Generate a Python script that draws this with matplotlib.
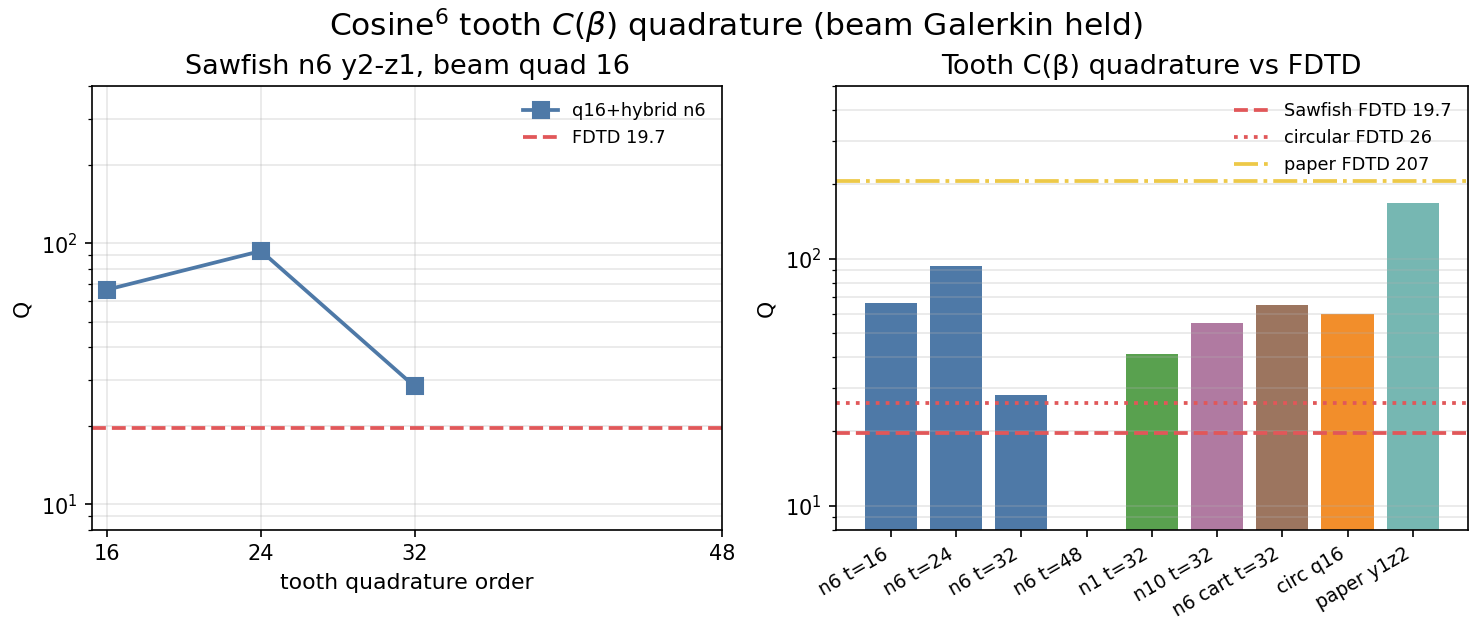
import numpy as np
import matplotlib
matplotlib.use("Agg")
import matplotlib.pyplot as plt

# left panel: Q vs tooth quadrature order (n6, beam quad 16)
orders = [16, 24, 32, 48]
q_hybrid = [66.5, 93.5, 28.3, np.nan]

# right panel: bar comparison
bar_labels = ["n6 t=16", "n6 t=24", "n6 t=32", "n6 t=48", "n1 t=32",
              "n10 t=32", "n6 cart t=32", "circ q16", "paper y1z2"]
bar_q = [66.4, 93.7, 28.1, np.nan, 41.2, 55.1, 64.9, 59.9, 168.6]
bar_colors = ["#4e79a7", "#4e79a7", "#4e79a7", "#4e79a7", "#59a14f",
              "#b07aa1", "#9c755f", "#f28e2b", "#76b7b2"]

fdtd_sawfish = 19.7
fdtd_circ = 26
fdtd_paper = 207

red = "#e15759"
yellow = "#edc948"

fig, (ax1, ax2) = plt.subplots(1, 2, figsize=(1472 / 150, 624 / 150), dpi=150)
ax1.set_position([0.0625, 0.151, 0.428, 0.711])
ax2.set_position([0.568, 0.151, 0.429, 0.711])

ax1.plot(orders, q_hybrid, "-s", color="#4e79a7", lw=1.8, ms=8, label="q16+hybrid n6")
ax1.axhline(fdtd_sawfish, color=red, ls="--", lw=1.8, label="FDTD 19.7")
ax1.set_yscale("log")
ax1.set_xticks(orders)
ax1.set_xlim(15.2, 48)
ax1.set_ylim(8, 400)
ax1.grid(True, which="both", alpha=0.3)
ax1.set_xlabel("tooth quadrature order", fontsize=10.5)
ax1.set_ylabel("Q", fontsize=10.5)
ax1.set_title("Sawfish n6 y2-z1, beam quad 16", fontsize=13)
ax1.legend(frameon=False, fontsize=8.5, loc="upper right")

x = np.arange(len(bar_labels))
ax2.bar(x, bar_q, color=bar_colors, width=0.8)
ax2.axhline(fdtd_sawfish, color=red, ls="--", lw=1.8, label="Sawfish FDTD 19.7")
ax2.axhline(fdtd_circ, color=red, ls=":", lw=1.8, label="circular FDTD 26")
ax2.axhline(fdtd_paper, color=yellow, ls="-.", lw=1.8, label="paper FDTD 207")
ax2.set_yscale("log")
ax2.set_ylim(8, 500)
ax2.set_xticks(x)
ax2.set_xticklabels(bar_labels, rotation=30, ha="right", fontsize=9)
ax2.grid(True, axis="y", which="both", alpha=0.3)
ax2.set_ylabel("Q", fontsize=10.5)
ax2.set_title("Tooth C(β) quadrature vs FDTD", fontsize=13)
ax2.legend(frameon=False, fontsize=8.5, loc="upper right")

fig.suptitle(r"Cosine$^6$ tooth $C(\beta)$ quadrature (beam Galerkin held)",
             fontsize=15, y=0.99)
fig.savefig("out.png", dpi=150)
